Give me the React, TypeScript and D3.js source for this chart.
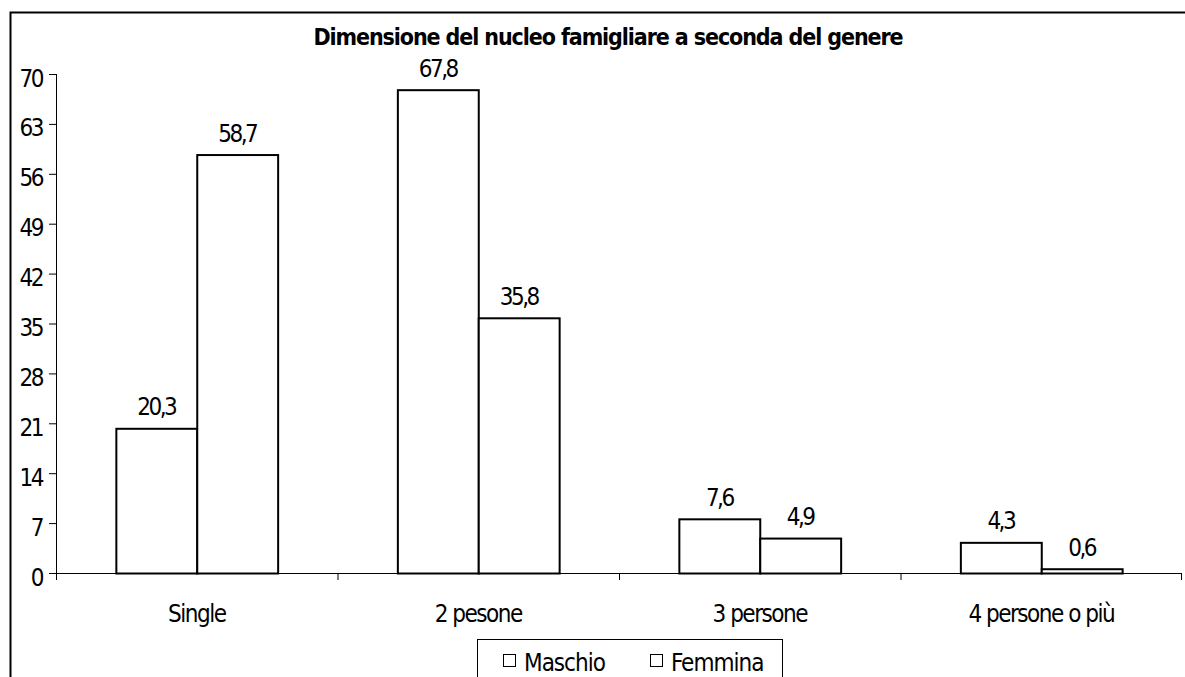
import React from "react";
import * as d3 from "d3";

const categories = ["Single", "2 pesone", "3 persone", "4 persone o più"];
const series = ["Maschio", "Femmina"];
const maschio = [20.3, 67.8, 7.6, 4.3];
const femmina = [58.7, 35.8, 4.9, 0.6];
const yTicks = [0, 7, 14, 21, 28, 35, 42, 49, 56, 63, 70];
const title = "Dimensione del nucleo famigliare a seconda del genere";

const W = 1185;
const H = 677;
const FONT = "'DejaVu Sans Condensed', 'DejaVu Sans', sans-serif";

const App = () => {
  const plot = { left: 56, right: 1182, top: 74, bottom: 573 };

  const x = d3
    .scaleBand()
    .domain(categories)
    .range([plot.left, plot.right])
    .paddingInner(0)
    .paddingOuter(0);

  // two bars per category, centred, with wide gaps either side
  const x1 = d3
    .scaleBand()
    .domain(series)
    .range([0, x.bandwidth()])
    .paddingOuter(0.74)
    .paddingInner(0);

  const y = d3.scaleLinear().domain([0, 70]).range([plot.bottom, plot.top]);

  const values = [maschio, femmina];
  const fmt = (v) => v.toFixed(1).replace(".", ",");

  return (
    <svg
      width={W}
      height={H}
      style={{ position: "absolute", left: 0, top: 0, background: "#fff" }}
      fontFamily={FONT}
    >
      <rect x={0} y={0} width={W} height={H} fill="#fff" />
      {/* outer frame */}
      <path d={`M10.5,${H} V12.5 H${W}`} fill="none" stroke="#000" strokeWidth={2} />

      <text
        x={608}
        y={45}
        textAnchor="middle"
        fontSize={23}
        fontWeight="bold"
        letterSpacing={-1.1}
      >
        {title}
      </text>

      {/* y axis */}
      <line x1={plot.left + 0.5} x2={plot.left + 0.5} y1={plot.top} y2={plot.bottom} stroke="#000" />
      {yTicks.map((t) => (
        <g key={t}>
          <line x1={plot.left - 7} x2={plot.left} y1={y(t) + 0.5} y2={y(t) + 0.5} stroke="#000" />
          <text x={42} y={y(t) + 12.5} textAnchor="end" fontSize={24} letterSpacing={-2.5}>
            {t}
          </text>
        </g>
      ))}

      {/* x axis */}
      <line x1={plot.left} x2={plot.right} y1={plot.bottom + 0.5} y2={plot.bottom + 0.5} stroke="#000" />
      {categories.map((c) => (
        <line
          key={"t" + c}
          x1={x(c) + 0.5}
          x2={x(c) + 0.5}
          y1={plot.bottom}
          y2={plot.bottom + 7}
          stroke="#000"
        />
      ))}
      <line x1={plot.right - 0.5} x2={plot.right - 0.5} y1={plot.bottom} y2={plot.bottom + 7} stroke="#000" />

      {categories.map((c, i) => (
        <g key={c}>
          {series.map((s, j) => {
            const v = values[j][i];
            const bx = x(c) + x1(s);
            return (
              <g key={s}>
                <rect
                  x={bx + 0.5}
                  y={y(v) + 0.5}
                  width={x1.bandwidth()}
                  height={y(0) - y(v)}
                  fill="#fff"
                  stroke="#000"
                  strokeWidth={2}
                />
                <text
                  x={bx + x1.bandwidth() / 2}
                  y={y(v) - 13}
                  textAnchor="middle"
                  fontSize={24}
                  letterSpacing={-2.5}
                >
                  {fmt(v)}
                </text>
              </g>
            );
          })}
          <text
            x={x(c) + x.bandwidth() / 2}
            y={622}
            textAnchor="middle"
            fontSize={24}
            letterSpacing={-1.5}
          >
            {c}
          </text>
        </g>
      ))}

      {/* legend */}
      <rect x={477.5} y={639.5} width={305} height={50} fill="#fff" stroke="#000" strokeWidth={1} />
      {series.map((s, j) => {
        const lx = [503, 650][j];
        return (
          <g key={s}>
            <rect x={lx + 0.5} y={654.5} width={12} height={12} fill="#fff" stroke="#000" />
            <text x={lx + 21} y={671} fontSize={24} letterSpacing={-1}>
              {s}
            </text>
          </g>
        );
      })}
    </svg>
  );
};

export default App;
